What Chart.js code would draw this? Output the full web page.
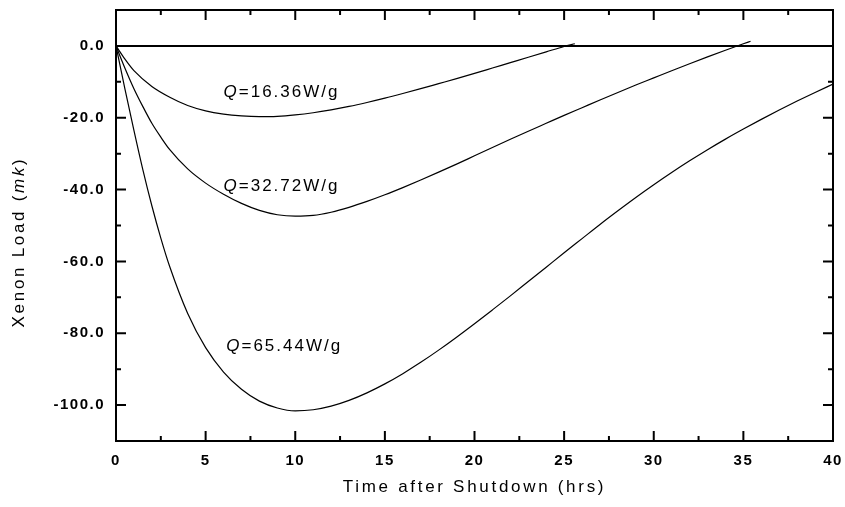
<!DOCTYPE html>
<html>
<head>
<meta charset="utf-8">
<script src="https://cdn.jsdelivr.net/npm/chart.js@4.4.0/dist/chart.umd.min.js"></script>
<style>
  html, body { margin: 0; padding: 0; background: #fff; }
  #wrap { width: 845px; height: 507px; }
</style>
</head>
<body>
<div id="wrap"><canvas id="xenonChart" width="845" height="507"></canvas></div>
<script>
// axis ticks
const xTicks = [0, 5, 10, 15, 20, 25, 30, 35, 40];
const yTicks = [-100, -80, -60, -40, -20, 0];

// Q = 16.36 W/g
const timeQ1 = [0, 0.5, 1, 2, 3, 4, 5, 6, 7, 8, 9, 10, 11, 12, 13, 14, 15, 16, 17, 18, 19, 20, 21, 22, 23, 24, 25, 25.6];
const loadQ1 = [0, -3.7, -6.9, -11.3, -14.3, -16.6, -18.1, -19, -19.5, -19.7, -19.6, -19.2, -18.6, -17.8, -16.85, -15.75, -14.55, -13.25, -11.9, -10.5, -9.1, -7.65, -6.15, -4.65, -3.15, -1.65, -0.15, 0.6];

// Q = 32.72 W/g
const timeQ2 = [0, 0.5, 1, 1.5, 2, 2.5, 3, 4, 5, 6, 7, 8, 9, 10, 11, 12, 13, 14, 15, 16, 17, 18, 19, 20, 21, 22, 23, 24, 25, 26, 27, 28, 29, 30, 31, 32, 33, 34, 35, 35.4];
const loadQ2 = [0, -6.2, -11.9, -16.9, -21.55, -25.4, -28.9, -34.25, -38.2, -41.3, -43.85, -45.8, -47.0, -47.4, -47.2, -46.3, -44.95, -43.3, -41.45, -39.45, -37.35, -35.15, -32.9, -30.6, -28.3, -26.0, -23.75, -21.55, -19.35, -17.2, -15.05, -12.95, -10.9, -8.9, -6.9, -4.95, -3.05, -1.2, 0.6, 1.3];

// Q = 65.44 W/g
const timeQ3 = [0, 0.5, 1, 1.5, 2, 2.5, 3, 4, 5, 6, 7, 8, 9, 10, 11, 12, 13, 14, 15, 16, 17, 18, 19, 20, 21, 22, 23, 24, 25, 26, 27, 28, 29, 30, 31, 32, 33, 34, 35, 36, 37, 38, 39, 40];
const loadQ3 = [0, -12, -23.5, -34.5, -44.5, -53.5, -61.5, -74.5, -84, -90.8, -95.6, -98.9, -100.8, -101.6, -101.3, -100.3, -98.7, -96.6, -94.1, -91.25, -88.1, -84.7, -81.1, -77.35, -73.5, -69.6, -65.6, -61.6, -57.6, -53.65, -49.7, -45.9, -42.2, -38.65, -35.25, -32, -28.9, -25.95, -23.15, -20.45, -17.85, -15.35, -12.95, -10.65];

const powerLabels = ['16.36W/g', '32.72W/g', '65.44W/g'];

// where the curve labels sit (data units)
const labelSpots = [
  { x: 6.0, y: -14.3 },
  { x: 6.0, y: -40.3 },
  { x: 6.15, y: -84.9 }
];

const FONT = '"Liberation Sans", Arial, sans-serif';

function toPoints(xs, ys) {
  return xs.map((x, i) => ({ x: x, y: ys[i] }));
}

// draws text made of several runs (regular / italic) one after another
function drawRuns(ctx, runs, x, y, align) {
  let total = 0;
  runs.forEach(r => { ctx.font = r.font; total += ctx.measureText(r.text).width; });
  let cur = align === 'center' ? x - total / 2 : x;
  runs.forEach(r => {
    ctx.font = r.font;
    ctx.fillText(r.text, cur, y);
    cur += ctx.measureText(r.text).width;
  });
}

function noEdgePadding(s) {
  s.paddingTop = 0;
  s.paddingBottom = 0;
  s.paddingLeft = 0;
  s.paddingRight = 0;
}

const framePlugin = {
  id: 'frame',
  beforeDraw(chart) {
    chart.ctx.letterSpacing = '1.5px';
  },
  afterDraw(chart) {
    const ctx = chart.ctx;
    const a = chart.chartArea;
    const xs = chart.scales.x;
    const ys = chart.scales.y;
    ctx.save();
    ctx.strokeStyle = '#000';
    ctx.fillStyle = '#000';
    ctx.lineWidth = 2;
    ctx.strokeRect(a.left, a.top, a.right - a.left, a.bottom - a.top);

    // inward ticks on all four sides
    ctx.beginPath();
    xTicks.forEach((v, i) => {
      const px = xs.getPixelForValue(v);
      ctx.moveTo(px, a.bottom); ctx.lineTo(px, a.bottom - 10);
      ctx.moveTo(px, a.top); ctx.lineTo(px, a.top + 10);
      if (i < xTicks.length - 1) {
        const mx = xs.getPixelForValue((v + xTicks[i + 1]) / 2);
        ctx.moveTo(mx, a.bottom); ctx.lineTo(mx, a.bottom - 5);
        ctx.moveTo(mx, a.top); ctx.lineTo(mx, a.top + 5);
      }
    });
    yTicks.forEach((v, i) => {
      const py = ys.getPixelForValue(v);
      ctx.moveTo(a.left, py); ctx.lineTo(a.left + 10, py);
      ctx.moveTo(a.right, py); ctx.lineTo(a.right - 10, py);
      if (i < yTicks.length - 1) {
        const my = ys.getPixelForValue((v + yTicks[i + 1]) / 2);
        ctx.moveTo(a.left, my); ctx.lineTo(a.left + 5, my);
        ctx.moveTo(a.right, my); ctx.lineTo(a.right - 5, my);
      }
    });
    ctx.stroke();

    // curve labels
    ctx.letterSpacing = '2px';
    ctx.textBaseline = 'alphabetic';
    ctx.textAlign = 'left';
    powerLabels.forEach((lab, i) => {
      const px = xs.getPixelForValue(labelSpots[i].x);
      const py = ys.getPixelForValue(labelSpots[i].y);
      drawRuns(ctx, [
        { text: 'Q', font: 'italic 17px ' + FONT },
        { text: '=' + lab, font: '17px ' + FONT }
      ], px, py, 'left');
    });

    // axis titles
    ctx.letterSpacing = '2.7px';
    drawRuns(ctx, [{ text: 'Time after Shutdown (hrs)', font: '17px ' + FONT }], (a.left + a.right) / 2, 492, 'center');

    ctx.translate(19, 242);
    ctx.rotate(-Math.PI / 2);
    ctx.textBaseline = 'middle';
    drawRuns(ctx, [
      { text: 'Xenon Load (', font: '17px ' + FONT },
      { text: 'mk', font: 'italic 17px ' + FONT },
      { text: ')', font: '17px ' + FONT }
    ], 0, 0, 'center');
    ctx.restore();
  }
};

const lineStyle = {
  borderColor: '#000',
  borderWidth: 1.2,
  pointRadius: 0,
  fill: false,
  cubicInterpolationMode: 'monotone'
};

const ctx = document.getElementById('xenonChart').getContext('2d');
new Chart(ctx, {
  type: 'line',
  data: {
    datasets: [
      Object.assign({ label: 'Q=' + powerLabels[0], data: toPoints(timeQ1, loadQ1) }, lineStyle),
      Object.assign({ label: 'Q=' + powerLabels[1], data: toPoints(timeQ2, loadQ2) }, lineStyle),
      Object.assign({ label: 'Q=' + powerLabels[2], data: toPoints(timeQ3, loadQ3) }, lineStyle)
    ]
  },
  options: {
    responsive: false,
    animation: false,
    layout: { padding: { top: 10, right: 12, left: 0, bottom: 0 } },
    plugins: {
      legend: { display: false },
      tooltip: { enabled: false }
    },
    scales: {
      x: {
        type: 'linear',
        min: 0,
        max: 40,
        afterBuildTicks: s => { s.ticks = xTicks.map(v => ({ value: v })); },
        afterFit: s => { s.height = 66; noEdgePadding(s); },
        grid: { display: false, drawTicks: false },
        border: { display: false },
        ticks: {
          autoSkip: false,
          maxRotation: 0,
          padding: 11,
          color: '#000',
          font: { family: FONT, size: 15, weight: 'bold' },
          callback: v => String(v)
        }
      },
      y: {
        min: -110,
        max: 10,
        afterBuildTicks: s => { s.ticks = yTicks.map(v => ({ value: v })); },
        afterFit: s => { s.width = 116; noEdgePadding(s); },
        grid: {
          drawTicks: false,
          lineWidth: 2,
          color: c => (c.tick && c.tick.value === 0) ? '#000' : 'rgba(0,0,0,0)'
        },
        border: { display: false },
        ticks: {
          autoSkip: false,
          padding: 11,
          color: '#000',
          font: { family: FONT, size: 15, weight: 'bold' },
          callback: v => Number(v).toFixed(1)
        }
      }
    }
  },
  plugins: [framePlugin]
});
</script>
</body>
</html>
